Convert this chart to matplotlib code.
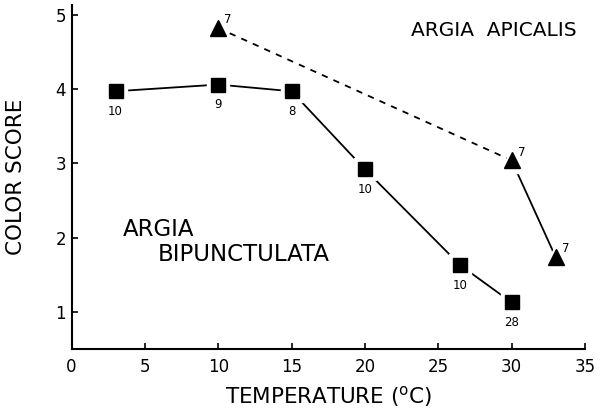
import matplotlib
matplotlib.use("Agg")
import matplotlib.pyplot as plt

plt.rcParams['font.family'] = ['DejaVu Sans']

# Argia bipunctulata (squares)
bip_temp = [3, 10, 15, 20, 26.5, 30]
bip_score = [3.97, 4.06, 3.97, 2.92, 1.63, 1.13]
bip_n = ["10", "9", "8", "10", "10", "28"]

# Argia apicalis (triangles)
api_temp = [10, 30, 33]
api_score = [4.82, 3.04, 1.74]
api_n = ["7", "7", "7"]

x_ticks = [0, 5, 10, 15, 20, 25, 30, 35]
y_ticks = [1, 2, 3, 4, 5]

fig = plt.figure(figsize=(6.01, 4.08), dpi=100)
ax = fig.add_axes([71.5 / 601, (408 - 349.3) / 408, (585 - 71.5) / 601, (349.3 - 5) / 408])

# lines
ax.plot(bip_temp, bip_score, color='black', lw=1.3, zorder=1)
ax.plot(api_temp[:2], api_score[:2], color='black', lw=1.3, ls=(0, (3.5, 3.5)), zorder=1)
ax.plot(api_temp[1:], api_score[1:], color='black', lw=1.3, zorder=1)

# white halos to create gaps
ax.plot(bip_temp, bip_score, ls='none', marker='s', ms=16, color='white', zorder=2)
ax.plot(api_temp, api_score, ls='none', marker='^', ms=19, color='white', zorder=2)

# markers
ax.plot(bip_temp, bip_score, ls='none', marker='s', ms=9.5, color='black', zorder=3)
ax.plot(api_temp, api_score, ls='none', marker='^', ms=11.5, color='black', zorder=3)

for x, y, t in zip(bip_temp, bip_score, bip_n):
    ax.annotate(t, (x, y), xytext=(0, -14.5), textcoords='offset points',
                ha='center', va='center', fontsize=8.5)
for x, y, t in zip(api_temp, api_score, api_n):
    ax.annotate(t, (x, y), xytext=(7, 6), textcoords='offset points',
                ha='center', va='center', fontsize=8.5)

ax.text(23.16, 4.79, "ARGIA  APICALIS", ha='left', va='center', fontsize=14.5)
ax.text(3.5, 2.11, "ARGIA", ha='left', va='center', fontsize=16.5)
ax.text(5.9, 1.78, "BIPUNCTULATA", ha='left', va='center', fontsize=16.5)

ax.set_xlim(0, 35)
ax.set_ylim(0.5, 5.13)
ax.set_xticks(x_ticks)
ax.set_yticks(y_ticks)
ax.tick_params(direction='in', length=4, width=1.2, labelsize=12)
ax.tick_params(axis='x', pad=6)
ax.tick_params(axis='y', pad=4)
for s in ['top', 'right']:
    ax.spines[s].set_visible(False)
for s in ['left', 'bottom']:
    ax.spines[s].set_linewidth(1.5)

ax.set_xlabel("TEMPERATURE ($^{\\rm o}$C)", fontsize=15.5, labelpad=6)
ax.set_ylabel("COLOR SCORE", fontsize=15.5, labelpad=21)

fig.savefig("out.png", dpi=100)
